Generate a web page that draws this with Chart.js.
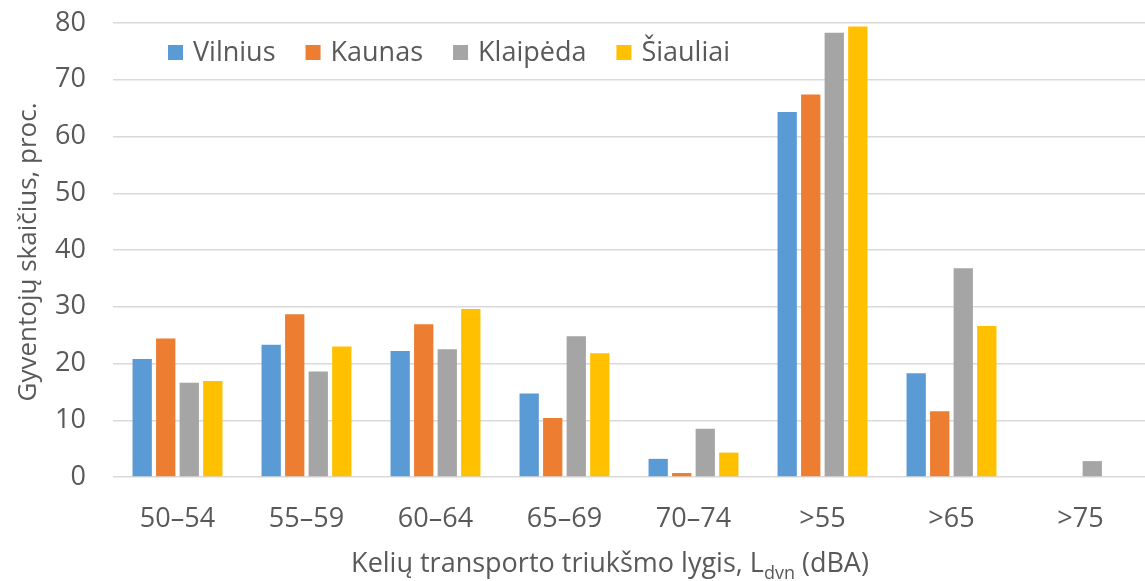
<!DOCTYPE html>
<html>
<head>
<meta charset="utf-8">
<script src="https://cdn.jsdelivr.net/npm/chart.js@4.4.1/dist/chart.umd.min.js"></script>
<style>
    html, body { margin: 0; padding: 0; background: #fff; }
    #wrap { width: 1145px; height: 581px; }
</style>
</head>
<body>
<div id="wrap"><canvas id="noise-chart" width="1145" height="581"></canvas></div>
<script>
// Kategorijos (triukšmo lygis, dBA)
const categories = ['50–54', '55–59', '60–64', '65–69', '70–74', '>55', '>65', '>75'];

// Gyventojų dalis, proc.
const vilnius  = [20.8, 23.3, 22.2, 14.7, 3.2, 64.3, 18.3, 0];
const kaunas   = [24.4, 28.7, 26.9, 10.4, 0.7, 67.4, 11.6, 0];
const klaipeda = [16.6, 18.6, 22.5, 24.8, 8.5, 78.3, 36.8, 2.8];
const siauliai = [16.9, 23.0, 29.6, 21.8, 4.3, 79.4, 26.6, 0];

const yTicks = [0, 10, 20, 30, 40, 50, 60, 70, 80];

const textColor = '#595959';
const fontFamily = '"Open Sans", sans-serif';

// Legenda viduje grafiko ploto, kaip Excel'yje
const insideLegend = {
    id: 'insideLegend',
    afterDraw(chart) {
        const ctx = chart.ctx;
        ctx.save();
        ctx.font = `27px ${fontFamily}`;
        ctx.textBaseline = 'middle';
        let x = 168;
        const y = 53;
        chart.data.datasets.forEach(ds => {
            ctx.fillStyle = ds.backgroundColor;
            ctx.fillRect(x, y - 8, 15, 15);
            ctx.fillStyle = textColor;
            ctx.fillText(ds.label, x + 25, y);
            x += 25 + ctx.measureText(ds.label).width + 30;
        });
        ctx.restore();
    }
};

// Ašių pavadinimai (X su apatiniu indeksu L_dvn)
const axisTitles = {
    id: 'axisTitles',
    afterDraw(chart) {
        const ctx = chart.ctx;
        ctx.save();
        ctx.fillStyle = textColor;
        ctx.textBaseline = 'alphabetic';
        const parts = [
            { t: 'Kelių transporto triukšmo lygis, L', size: 27, dy: 0 },
            { t: 'dvn', size: 18, dy: 7 },
            { t: ' (dBA)', size: 27, dy: 0 }
        ];
        let total = 0;
        parts.forEach(p => {
            ctx.font = `${p.size}px ${fontFamily}`;
            p.w = ctx.measureText(p.t).width;
            total += p.w;
        });
        let x = 610 - total / 2;
        const base = 572;
        parts.forEach(p => {
            ctx.font = `${p.size}px ${fontFamily}`;
            ctx.fillText(p.t, x, base + p.dy);
            x += p.w;
        });

        // Y ašies pavadinimas
        ctx.translate(36, 252);
        ctx.rotate(-Math.PI / 2);
        ctx.font = `26px ${fontFamily}`;
        ctx.textAlign = 'center';
        ctx.fillText('Gyventojų skaičius, proc.', 0, 0);
        ctx.restore();
    }
};

new Chart(document.getElementById('noise-chart'), {
    type: 'bar',
    data: {
        labels: categories,
        datasets: [
            { label: 'Vilnius', data: vilnius, backgroundColor: '#5B9BD5' },
            { label: 'Kaunas', data: kaunas, backgroundColor: '#ED7D31' },
            { label: 'Klaipėda', data: klaipeda, backgroundColor: '#A5A5A5' },
            { label: 'Šiauliai', data: siauliai, backgroundColor: '#FFC000' }
        ]
    },
    options: {
        responsive: false,
        animation: false,
        devicePixelRatio: 1,
        layout: { padding: { top: 23, right: 0, bottom: 0, left: 0 } },
        datasets: {
            bar: { categoryPercentage: 0.73, barPercentage: 0.82 }
        },
        plugins: {
            legend: { display: false },
            tooltip: { enabled: false }
        },
        scales: {
            x: {
                grid: { display: false, drawTicks: false },
                border: { display: false },
                ticks: {
                    color: textColor,
                    font: { family: fontFamily, size: 27 },
                    padding: 26,
                    maxRotation: 0
                },
                afterFit(scale) {
                    scale.height = 104;
                    scale.paddingLeft = 0;
                    scale.paddingRight = 0;
                }
            },
            y: {
                min: 0,
                max: 80,
                afterBuildTicks(scale) { scale.ticks = yTicks.map(v => ({ value: v })); },
                grid: { color: '#D9D9D9', lineWidth: 1.5, drawTicks: false },
                border: { display: false },
                ticks: {
                    color: textColor,
                    font: { family: fontFamily, size: 27 },
                    padding: 27
                },
                afterFit(scale) {
                    scale.width = 113;
                    scale.paddingTop = 0;
                    scale.paddingBottom = 0;
                }
            }
        }
    },
    plugins: [insideLegend, axisTitles]
});
</script>
</body>
</html>
